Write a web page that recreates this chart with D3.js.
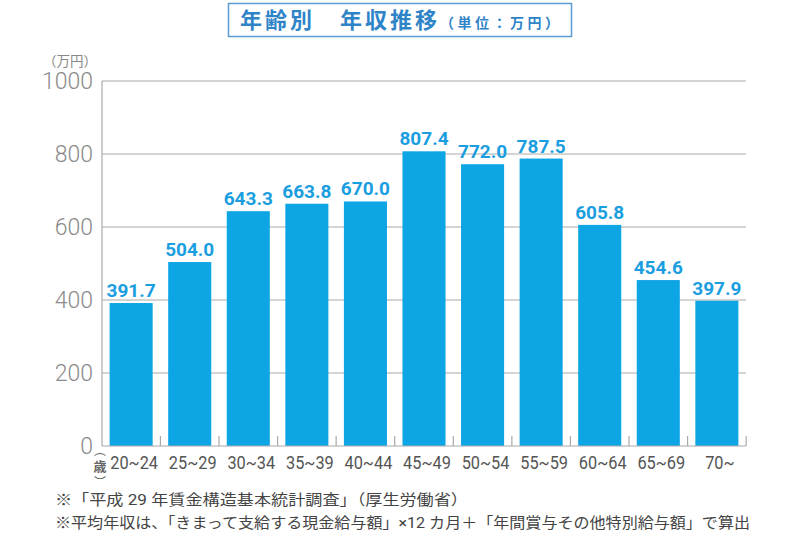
<!DOCTYPE html>
<html>
<head>
<meta charset="utf-8">
<script src="https://cdn.jsdelivr.net/npm/d3@7"></script>
<style>
  body { margin: 0; background: #fff; }
  text { font-family: Roboto, "Noto Sans CJK JP", sans-serif; }
</style>
</head>
<body>
<svg width="800" height="533"></svg>
<script>
let ageGroups = ['20~24', '25~29', '30~34', '35~39', '40~44', '45~49', '50~54', '55~59', '60~64', '65~69', '70~'];
let incomes = [391.7, 504.0, 643.3, 663.8, 670.0, 807.4, 772.0, 787.5, 605.8, 454.6, 397.9];
let yTicks = [0, 200, 400, 600, 800, 1000];
let notes = [
    '※「平成 29 年賃金構造基本統計調査」（厚生労働省）',
    '※平均年収は、「きまって支給する現金給与額」×12 カ月＋「年間賞与その他特別給与額」で算出'
];
let noteWidths = [413, 695];

let svg = d3.select('svg');
let margin = {left: 102, right: 54, top: 81, bottom: 87};
let width = 800 - margin.left - margin.right,
    height = 533 - margin.top - margin.bottom;

let x = d3.scaleBand().domain(ageGroups).range([0, width]).paddingInner(0.265).paddingOuter(0.13);
let y = d3.scaleLinear().domain([0, 1000]).range([height, 0]);

let g = svg.append('g').attr('transform', `translate(${margin.left},${margin.top})`);

// gridlines
g.append('g')
    .selectAll('line')
    .data(yTicks.filter(d => d > 0))
    .enter().append('line')
    .attr('x1', 0).attr('x2', width)
    .attr('y1', d => y(d)).attr('y2', d => y(d))
    .attr('stroke', '#aaa').attr('stroke-width', 1.2);

// y axis labels
g.append('g')
    .selectAll('text')
    .data(yTicks)
    .enter().append('text')
    .attr('x', -9).attr('y', d => y(d))
    .attr('dy', '0.36em')
    .attr('text-anchor', 'end')
    .attr('fill', '#8a8a8a')
    .style('font-size', '23px')
    .style('font-weight', 300)
    .text(d => d);

// bars
g.append('g')
    .selectAll('rect')
    .data(incomes)
    .enter().append('rect')
    .attr('x', (d, i) => x(ageGroups[i]))
    .attr('y', d => y(d))
    .attr('width', x.bandwidth())
    .attr('height', d => height - y(d))
    .attr('fill', '#0ea5e4');

// value labels
g.append('g')
    .selectAll('text')
    .data(incomes)
    .enter().append('text')
    .attr('x', (d, i) => x(ageGroups[i]) + x.bandwidth() / 2)
    .attr('y', d => y(d) - 6)
    .attr('text-anchor', 'middle')
    .attr('fill', '#1a9ee0')
    .style('font-size', '19px')
    .style('font-weight', 700)
    .text(d => d.toFixed(1));

// axes lines
g.append('line')
    .attr('x1', 0).attr('x2', 0).attr('y1', 0).attr('y2', height)
    .attr('stroke', '#aaa').attr('stroke-width', 1.2);
g.append('line')
    .attr('x1', 0).attr('x2', width).attr('y1', height).attr('y2', height)
    .attr('stroke', '#aaa').attr('stroke-width', 1.2);

// band separator ticks
let step = x.step();
g.append('g')
    .selectAll('line')
    .data(ageGroups)
    .enter().append('line')
    .attr('x1', d => x(d) + x.bandwidth() + (step - x.bandwidth()) / 2)
    .attr('x2', d => x(d) + x.bandwidth() + (step - x.bandwidth()) / 2)
    .attr('y1', height - 10).attr('y2', height)
    .attr('stroke', '#aaa').attr('stroke-width', 1.2);

// x labels
g.append('g')
    .selectAll('text')
    .data(ageGroups)
    .enter().append('text')
    .attr('transform', d => `translate(${x(d) + x.bandwidth() / 2 + 3},${height + 23}) scale(0.86,1)`)
    .attr('text-anchor', 'middle')
    .attr('fill', '#555')
    .style('font-size', '19px')
    .text(d => d);

// unit label (万円)
svg.append('text')
    .attr('x', 97).attr('y', 66)
    .attr('text-anchor', 'end')
    .attr('fill', '#888')
    .style('font-size', '13.5px')
    .text('（万円）');

// 歳 label with vertical brackets
let sai = svg.append('g').attr('transform', 'translate(100,466)');
sai.append('text')
    .attr('text-anchor', 'middle').attr('y', -11)
    .attr('fill', '#666').style('font-size', '12px')
    .text('︵');
sai.append('text')
    .attr('text-anchor', 'middle').attr('y', 5)
    .attr('fill', '#666').style('font-size', '13px').style('font-weight', 700)
    .text('歳');
sai.append('text')
    .attr('text-anchor', 'middle').attr('y', 21)
    .attr('fill', '#666').style('font-size', '12px')
    .text('︶');

// title box
svg.append('rect')
    .attr('x', 228.5).attr('y', 3.5).attr('width', 343).attr('height', 33)
    .attr('fill', '#fff').attr('stroke', '#5b9bd5').attr('stroke-width', 1.5);
let title = svg.append('text')
    .attr('x', 240).attr('y', 28)
    .attr('fill', '#2f84c8');
title.append('tspan').style('font-size', '22px').style('font-weight', 700)
    .style('letter-spacing', '3px').text('年齢別　年収推移');
title.append('tspan').style('font-size', '14px').style('font-weight', 700)
    .style('letter-spacing', '3.5px').text('（単位：万円）');

// notes
svg.append('g')
    .selectAll('text')
    .data(notes)
    .enter().append('text')
    .attr('x', 55).attr('y', (d, i) => 505 + i * 23)
    .attr('fill', '#444')
    .attr('textLength', (d, i) => noteWidths[i])
    .attr('lengthAdjust', 'spacingAndGlyphs')
    .style('font-size', '15px')
    .text(d => d);
</script>
</body>
</html>
